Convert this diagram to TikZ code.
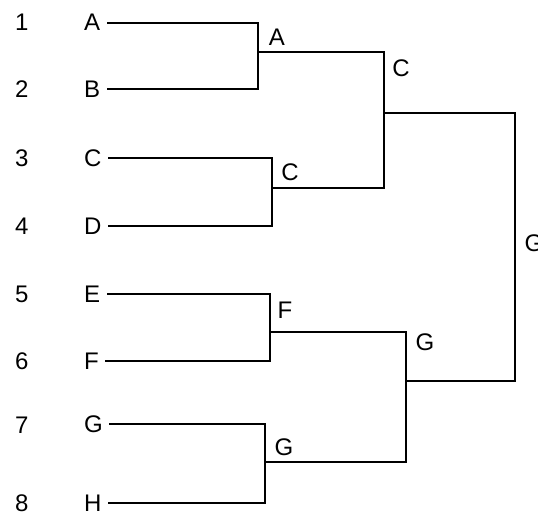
\documentclass[tikz,border=0pt]{standalone}
\usepackage{fontspec}
\setmainfont{Liberation Sans}
\usepackage{tikz}

\begin{document}
\begin{tikzpicture}[
  x=1pt, y=-1pt,
  num/.style={anchor=west, inner sep=4pt, font=\fontsize{24}{24}\selectfont},
  leaf/.style={anchor=west, inner xsep=7pt, inner ysep=2pt, font=\fontsize{24}{24}\selectfont},
  lbl/.style={inner sep=1pt, font=\fontsize{24}{24}\selectfont},
  link/.style={line width=1.8pt, line cap=rect}
]
\useasboundingbox (0,0) rectangle (538,517);
\node[num] (n1) at (11,22.7) {1};
\node[num] (n2) at (11,89) {2};
\node[num] (n3) at (11,158) {3};
\node[num] (n4) at (11,226) {4};
\node[num] (n5) at (11,294) {5};
\node[num] (n6) at (11,361) {6};
\node[num] (n7) at (11,425) {7};
\node[num] (n8) at (11,503) {8};
\node[leaf] (A) at (77,22.7) {A};
\node[leaf] (B) at (77,89) {B};
\node[leaf] (C) at (77,158) {C};
\node[leaf] (D) at (77,226) {D};
\node[leaf] (E) at (77,294) {E};
\node[leaf] (F) at (77,361) {F};
\node[leaf] (G) at (77,424) {G};
\node[leaf] (H) at (77,503) {H};
\coordinate (jAB) at (258,52);
\coordinate (jCD) at (272,188);
\coordinate (jABCD) at (384,113);
\coordinate (jEF) at (270,332);
\coordinate (jGH) at (265,462);
\coordinate (jEFGH) at (406,381);
\coordinate (root) at (515,247);
\node[lbl] (lAB) at (277,37) {A};
\node[lbl] (lCD) at (290,172) {C};
\node[lbl] (lABCD) at (401,68) {C};
\node[lbl] (lEF) at (285,310) {F};
\node[lbl] (lGH) at (284,447) {G};
\node[lbl] (lEFGH) at (425,342) {G};
\node[lbl] (lroot) at (534,243) {G};
\draw[link] (A.east) -| (jAB) |- (B.east);
\draw[link] (C.east) -| (jCD) |- (D.east);
\draw[link] (E.east) -| (jEF) |- (F.east);
\draw[link] (G.east) -| (jGH) |- (H.east);
\draw[link] (jAB) -| (jABCD) |- (jCD);
\draw[link] (jEF) -| (jEFGH) |- (jGH);
\draw[link] (jABCD) -| (root) |- (jEFGH);
\end{tikzpicture}
\end{document}
